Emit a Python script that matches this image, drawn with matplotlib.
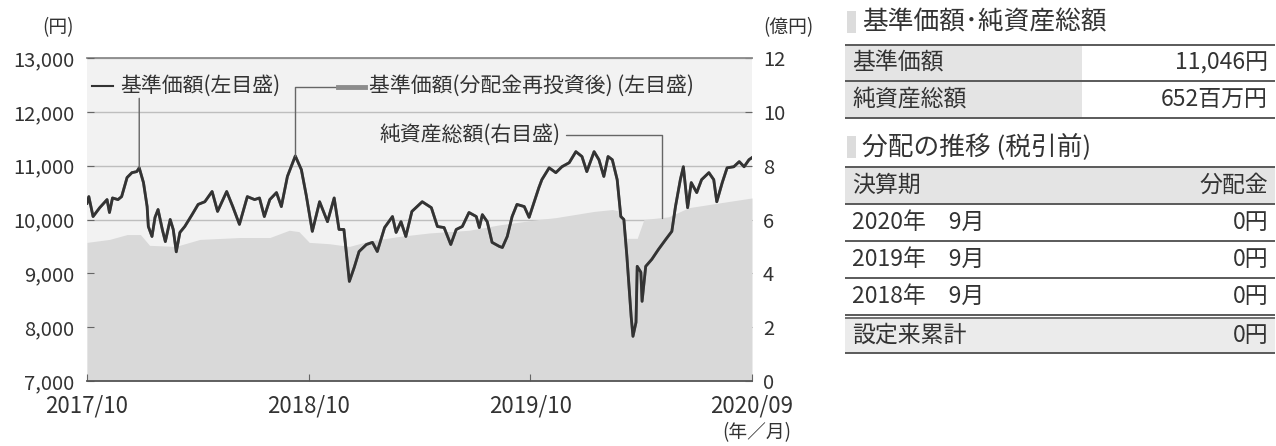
import numpy as np
import pandas as pd
import matplotlib
matplotlib.use("Agg")
import matplotlib.pyplot as plt
from matplotlib.lines import Line2D
from matplotlib.patches import Rectangle

plt.rcParams['font.family'] = ['Noto Sans CJK JP', 'DejaVu Sans']

# --- data ---
nav_dates = [
    "2017-10-01", "2017-10-04", "2017-10-11", "2017-10-22", "2017-11-03", "2017-11-07",
    "2017-11-12", "2017-11-21", "2017-11-27", "2017-12-06", "2017-12-14", "2017-12-22",
    "2017-12-26", "2018-01-02", "2018-01-08", "2018-01-10", "2018-01-16", "2018-01-21",
    "2018-01-26", "2018-02-02", "2018-02-07", "2018-02-15", "2018-02-20", "2018-02-25",
    "2018-03-03", "2018-03-11", "2018-03-23", "2018-04-02", "2018-04-13", "2018-04-25",
    "2018-05-04", "2018-05-19", "2018-05-29", "2018-06-09", "2018-06-22", "2018-07-04",
    "2018-07-12", "2018-07-20", "2018-07-29", "2018-08-09", "2018-08-17", "2018-08-27",
    "2018-09-09", "2018-09-19", "2018-09-27", "2018-10-07", "2018-10-19", "2018-11-01",
    "2018-11-12", "2018-11-20", "2018-11-28", "2018-12-07", "2018-12-15", "2018-12-23",
    "2019-01-04", "2019-01-14", "2019-01-22", "2019-02-03", "2019-02-16", "2019-02-22",
    "2019-03-02", "2019-03-10", "2019-03-20", "2019-04-06", "2019-04-21", "2019-05-01",
    "2019-05-12", "2019-05-23", "2019-06-01", "2019-06-11", "2019-06-22", "2019-07-04",
    "2019-07-09", "2019-07-14", "2019-07-22", "2019-07-30", "2019-08-11", "2019-08-16",
    "2019-08-24", "2019-09-01", "2019-09-09", "2019-09-21", "2019-09-29", "2019-10-07",
    "2019-10-15", "2019-10-20", "2019-11-01", "2019-11-12", "2019-11-22", "2019-12-04",
    "2019-12-15", "2019-12-25", "2020-01-02", "2020-01-14", "2020-01-22", "2020-01-30",
    "2020-02-06", "2020-02-13", "2020-02-21", "2020-02-27", "2020-03-03", "2020-03-08",
    "2020-03-15", "2020-03-18", "2020-03-23", "2020-03-25", "2020-03-31", "2020-04-02",
    "2020-04-08", "2020-04-18", "2020-04-29", "2020-05-11", "2020-05-21", "2020-05-27",
    "2020-06-04", "2020-06-09", "2020-06-16", "2020-06-22", "2020-07-01", "2020-07-09",
    "2020-07-21", "2020-07-29", "2020-08-03", "2020-08-12", "2020-08-20", "2020-08-31",
    "2020-09-09", "2020-09-17", "2020-09-25", "2020-09-30",
]
nav_values = [
    10300, 10425, 10055, 10220, 10370, 10130,
    10400, 10370, 10425, 10780, 10870, 10890,
    10960, 10685, 10240, 9870, 9685, 10040,
    10185, 9815, 9590, 10000, 9815, 9400,
    9760, 9870, 10090, 10280, 10330, 10520,
    10150, 10520, 10240, 9910, 10425, 10370,
    10400, 10055, 10370, 10500, 10240, 10800,
    11180, 10925, 10450, 9780, 10330, 9960,
    10400, 9815, 9815, 8850, 9110, 9405,
    9535, 9575, 9405, 9850, 10055, 9760,
    9960, 9685, 10150, 10330, 10220, 9870,
    9850, 9535, 9815, 9870, 10130, 10055,
    9850, 10090, 9960, 9575, 9500, 9480,
    9685, 10055, 10280, 10240, 10040, 10315,
    10590, 10740, 10960, 10870, 10980, 11055,
    11260, 11170, 10890, 11260, 11110, 10800,
    11170, 11110, 10740, 10055, 10000, 9315,
    8200, 7830, 8090, 9130, 9020, 8480,
    9130, 9260, 9445, 9630, 9780, 10240,
    10740, 10980, 10220, 10685, 10500, 10740,
    10870, 10740, 10330, 10685, 10960, 10980,
    11075, 10980, 11110, 11150,
]
# no distributions paid, so the reinvested series equals the NAV
nav_reinv_values = list(nav_values)

na_dates = [
    "2017-10-01", "2017-11-07", "2017-12-06", "2017-12-28", "2018-01-12", "2018-02-24",
    "2018-04-05", "2018-06-09", "2018-07-29", "2018-08-30", "2018-09-15", "2018-10-02",
    "2018-11-04", "2018-12-07", "2019-01-09", "2019-02-27", "2019-04-18", "2019-06-22",
    "2019-08-11", "2019-10-15", "2019-11-12", "2020-01-14", "2020-02-13", "2020-02-27",
    "2020-03-08", "2020-03-25", "2020-04-05", "2020-05-16", "2020-06-18", "2020-08-23",
    "2020-09-30",
]
na_values = [
    5.15, 5.26, 5.44, 5.44, 5.04, 5.00,
    5.26, 5.33, 5.33, 5.60, 5.55, 5.15,
    5.10, 5.00, 5.20, 5.37, 5.50, 5.60,
    5.80, 6.00, 6.07, 6.30, 6.37, 6.30,
    5.30, 5.30, 6.00, 6.10, 6.44, 6.67,
    6.80,
]

x_ticks = ["2017-10-01", "2018-10-01", "2019-10-01", "2020-09-30"]
x_labels = ["2017/10", "2018/10", "2019/10", "2020/09"]
left_ticks = [7000, 8000, 9000, 10000, 11000, 12000, 13000]
right_ticks = [0, 2, 4, 6, 8, 10, 12]

table1_labels = ["基準価額", "純資産総額"]
table1_values = ["11,046円", "652百万円"]
dist_header = ["決算期", "分配金"]
dist_periods = ["2020年　9月", "2019年　9月", "2018年　9月"]
dist_amounts = ["0円", "0円", "0円"]
dist_total = ["設定来累計", "0円"]

nav_dates = pd.to_datetime(nav_dates)
na_dates = pd.to_datetime(na_dates)

W, H = 1276, 446
TXT = '#333333'
fig = plt.figure(figsize=(W / 100, H / 100), dpi=100)

# --- chart ---
ax = fig.add_axes([87 / W, 1 - 381 / H, (752 - 87) / W, (381 - 58) / H])
ax2 = ax.twinx()
ax.set_zorder(ax2.get_zorder() + 1)
ax.patch.set_visible(False)
ax2.patch.set_visible(True)
ax2.set_facecolor('#f2f2f2')

ax2.fill_between(na_dates, na_values, 0, color='#d9d9d9', lw=0)
ax2.set_ylim(0, 12)
ax2.set_yticks(right_ticks)
ax2.yaxis.grid(True, color='#bebebe', lw=1)
ax2.set_axisbelow(True)

ax.plot(nav_dates, nav_reinv_values, color='#8c8c8c', lw=2.0)
ax.plot(nav_dates, nav_values, color='#333333', lw=2.0)
ax.set_ylim(7000, 13000)
ax.set_yticks(left_ticks)
ax.set_yticklabels([f"{v:,}" for v in left_ticks])
ax.set_xlim(pd.Timestamp("2017-10-01"), pd.Timestamp("2020-09-30"))
ax.set_xticks(pd.to_datetime(x_ticks))
ax.set_xticklabels(x_labels)

for a in (ax, ax2):
    for s in ('left', 'right', 'top', 'bottom'):
        a.spines[s].set_visible(False)
ax.spines['bottom'].set_visible(True)
ax.spines['bottom'].set_color('#555555')
ax.spines['bottom'].set_linewidth(1.3)
ax2.spines['top'].set_visible(True)
ax2.spines['top'].set_color('#8a8a8a')
ax2.spines['top'].set_linewidth(1.3)

ax.tick_params(axis='y', direction='in', length=5, color='#666666',
               labelsize=14.5, labelcolor=TXT, pad=9)
ax2.tick_params(axis='y', direction='in', length=5, color='#666666',
                labelsize=14.5, labelcolor=TXT, pad=8)
ax.tick_params(axis='x', direction='in', length=5, color='#666666',
               labelsize=16, labelcolor=TXT, pad=10)

# unit labels
fig.text(58 / W, 1 - 28 / H, "(円)", fontsize=13.5, color=TXT, ha='center', va='center')
fig.text(788 / W, 1 - 28 / H, "(億円)", fontsize=13.5, color=TXT, ha='center', va='center')
fig.text(757 / W, 1 - 433 / H, "(年／月)", fontsize=13.5, color=TXT, ha='center', va='center')

# series labels with leader lines
fig.add_artist(Line2D([92 / W, 113 / W], [1 - 86 / H] * 2, color='#333333', lw=1.5))
fig.text(120 / W, 1 - 86 / H, "基準価額(左目盛)", fontsize=15, color=TXT, va='center')
fig.add_artist(Line2D([338 / W, 365 / W], [1 - 87 / H] * 2, color='#8c8c8c', lw=3.5))
fig.text(369 / W, 1 - 86 / H, "基準価額(分配金再投資後) (左目盛)", fontsize=15, color=TXT, va='center')
fig.text(379 / W, 1 - 135 / H, "純資産総額(右目盛)", fontsize=15, color=TXT, va='center')

nav_num = np.array(nav_values)
i1 = int(np.argmax(nav_num[:20]))
i2 = 20 + int(np.argmax(nav_num[20:50]))
ax.annotate("", xy=(nav_dates[i1], nav_values[i1]), xytext=(nav_dates[i1], 12250),
            arrowprops=dict(arrowstyle='-', color='#666666', lw=1, shrinkA=0, shrinkB=0))
ax.annotate("", xy=(nav_dates[i2], nav_values[i2]), xytext=(337, H - 87),
            textcoords='figure pixels',
            arrowprops=dict(arrowstyle='-', color='#666666', lw=1, shrinkA=0, shrinkB=0,
                            connectionstyle='angle,angleA=0,angleB=90,rad=0'))
na_target = pd.Timestamp("2020-05-05")
na_at = np.interp(na_target.value, na_dates.asi8, na_values)
ax2.annotate("", xy=(na_target, na_at), xytext=(566, H - 135),
             textcoords='figure pixels',
             arrowprops=dict(arrowstyle='-', color='#666666', lw=1, shrinkA=0, shrinkB=0,
                             connectionstyle='angle,angleA=0,angleB=90,rad=0'))

# --- right side tables ---
tb = fig.add_axes([0, 0, 1, 1], zorder=5)
tb.set_xlim(0, W)
tb.set_ylim(H, 0)
tb.axis('off')
tb.patch.set_visible(False)

L, R = 845, 1275
GRAY = '#e4e4e4'
LINE = '#5a5a5a'
FS = 16.5


def hline(y, lw=1.4):
    tb.plot([L, R], [y, y], color=LINE, lw=lw, solid_capstyle='butt')


def title(y, s):
    tb.add_patch(Rectangle((847, y - 11), 9, 22, color='#dcdcdc', lw=0))
    tb.text(862, y, s, fontsize=18.5, color=TXT, va='center')


title(22, "基準価額･純資産総額")
rows1 = [45, 81, 118]
for k, (lab, val) in enumerate(zip(table1_labels, table1_values)):
    y0, y1 = rows1[k], rows1[k + 1]
    tb.add_patch(Rectangle((L, y0), 1082 - L, y1 - y0, color=GRAY, lw=0))
    tb.text(852, (y0 + y1) / 2, lab, fontsize=FS, color=TXT, va='center')
    tb.text(1268, (y0 + y1) / 2, val, fontsize=FS, color=TXT, va='center', ha='right')
for y in rows1:
    hline(y)

title(147, "分配の推移 (税引前)")
rows2 = [167, 204, 241, 278, 315]
tb.add_patch(Rectangle((L, 167), R - L, 37, color=GRAY, lw=0))
tb.text(852, 185.5, dist_header[0], fontsize=FS, color=TXT, va='center')
tb.text(1268, 185.5, dist_header[1], fontsize=FS, color=TXT, va='center', ha='right')
for k, (p, v) in enumerate(zip(dist_periods, dist_amounts)):
    yc = (rows2[k + 1] + rows2[k + 2]) / 2
    tb.text(852, yc, p, fontsize=FS, color=TXT, va='center')
    tb.text(1268, yc, v, fontsize=FS, color=TXT, va='center', ha='right')
tb.add_patch(Rectangle((L, 318), R - L, 353 - 318, color='#ebebeb', lw=0))
tb.text(852, 335.5, dist_total[0], fontsize=FS, color=TXT, va='center')
tb.text(1268, 335.5, dist_total[1], fontsize=FS, color=TXT, va='center', ha='right')
for y in rows2:
    hline(y)
hline(318, lw=1.2)
hline(353)

fig.savefig("out.png", dpi=100)
